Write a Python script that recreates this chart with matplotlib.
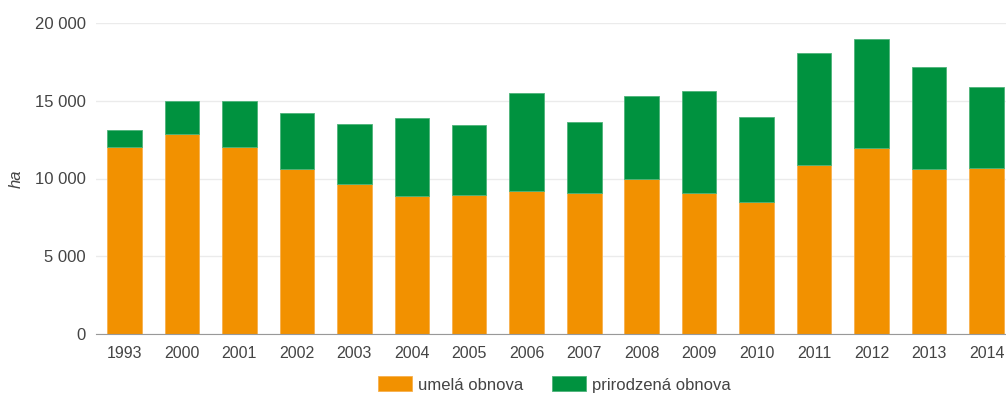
import matplotlib
matplotlib.use("Agg")
import matplotlib.pyplot as plt
import numpy as np
from matplotlib.ticker import FuncFormatter

years = ["1993", "2000", "2001", "2002", "2003", "2004", "2005", "2006",
         "2007", "2008", "2009", "2010", "2011", "2012", "2013", "2014"]
umela = [12050, 12860, 12050, 10630, 9640, 8870, 8920, 9220,
         9050, 9950, 9090, 8490, 10870, 11940, 10630, 10700]
celkom = [13150, 15000, 15000, 14200, 13520, 13910, 13440, 15520,
          13610, 15280, 15630, 13930, 18050, 18950, 17170, 15860]
prirodzena = [c - u for c, u in zip(celkom, umela)]

orange = "#f29100"
green = "#00923f"
txt = "#444444"

plt.rcParams['font.family'] = ['Liberation Sans', 'DejaVu Sans']

fig = plt.figure(figsize=(10.06, 3.94), dpi=100)
ax = fig.add_axes([95.5/1006, 60/394, 920/1006, 311/394])

x = np.arange(len(years))
ax.bar(x, umela, width=0.6, color=orange, edgecolor="#f7b04d", linewidth=0.6,
       label="umelá obnova", zorder=3)
ax.bar(x, prirodzena, width=0.6, bottom=umela, color=green, edgecolor="#4db37a",
       linewidth=0.6, label="prirodzená obnova", zorder=3)

ax.set_xlim(-0.5, len(years) - 0.5)
ax.set_ylim(0, 20000)
ax.set_yticks([0, 5000, 10000, 15000, 20000])
ax.yaxis.set_major_formatter(FuncFormatter(lambda v, p: f"{int(v):,}".replace(",", " ")))
ax.set_xticks(x)
ax.set_xticklabels(years)

ax.grid(axis="y", color="#ebebeb", linewidth=1, zorder=0)
for s in ["top", "right", "left"]:
    ax.spines[s].set_visible(False)
ax.spines["bottom"].set_color("#999999")
ax.spines["bottom"].set_zorder(4)
ax.tick_params(axis="both", length=0, colors=txt)
ax.tick_params(axis="y", pad=7, labelsize=12)
ax.tick_params(axis="x", pad=9, labelsize=11.5)

ax.set_ylabel("ha", fontstyle="italic", fontsize=12, color=txt, labelpad=8)

fig.legend(loc="center", bbox_to_anchor=(0.551, 0.024), ncol=2, frameon=False,
           fontsize=12, handlelength=2.05, handleheight=1.0, handletextpad=0.36,
           columnspacing=1.75, labelcolor=txt, borderpad=0.2)

fig.savefig("out.png", dpi=100)
